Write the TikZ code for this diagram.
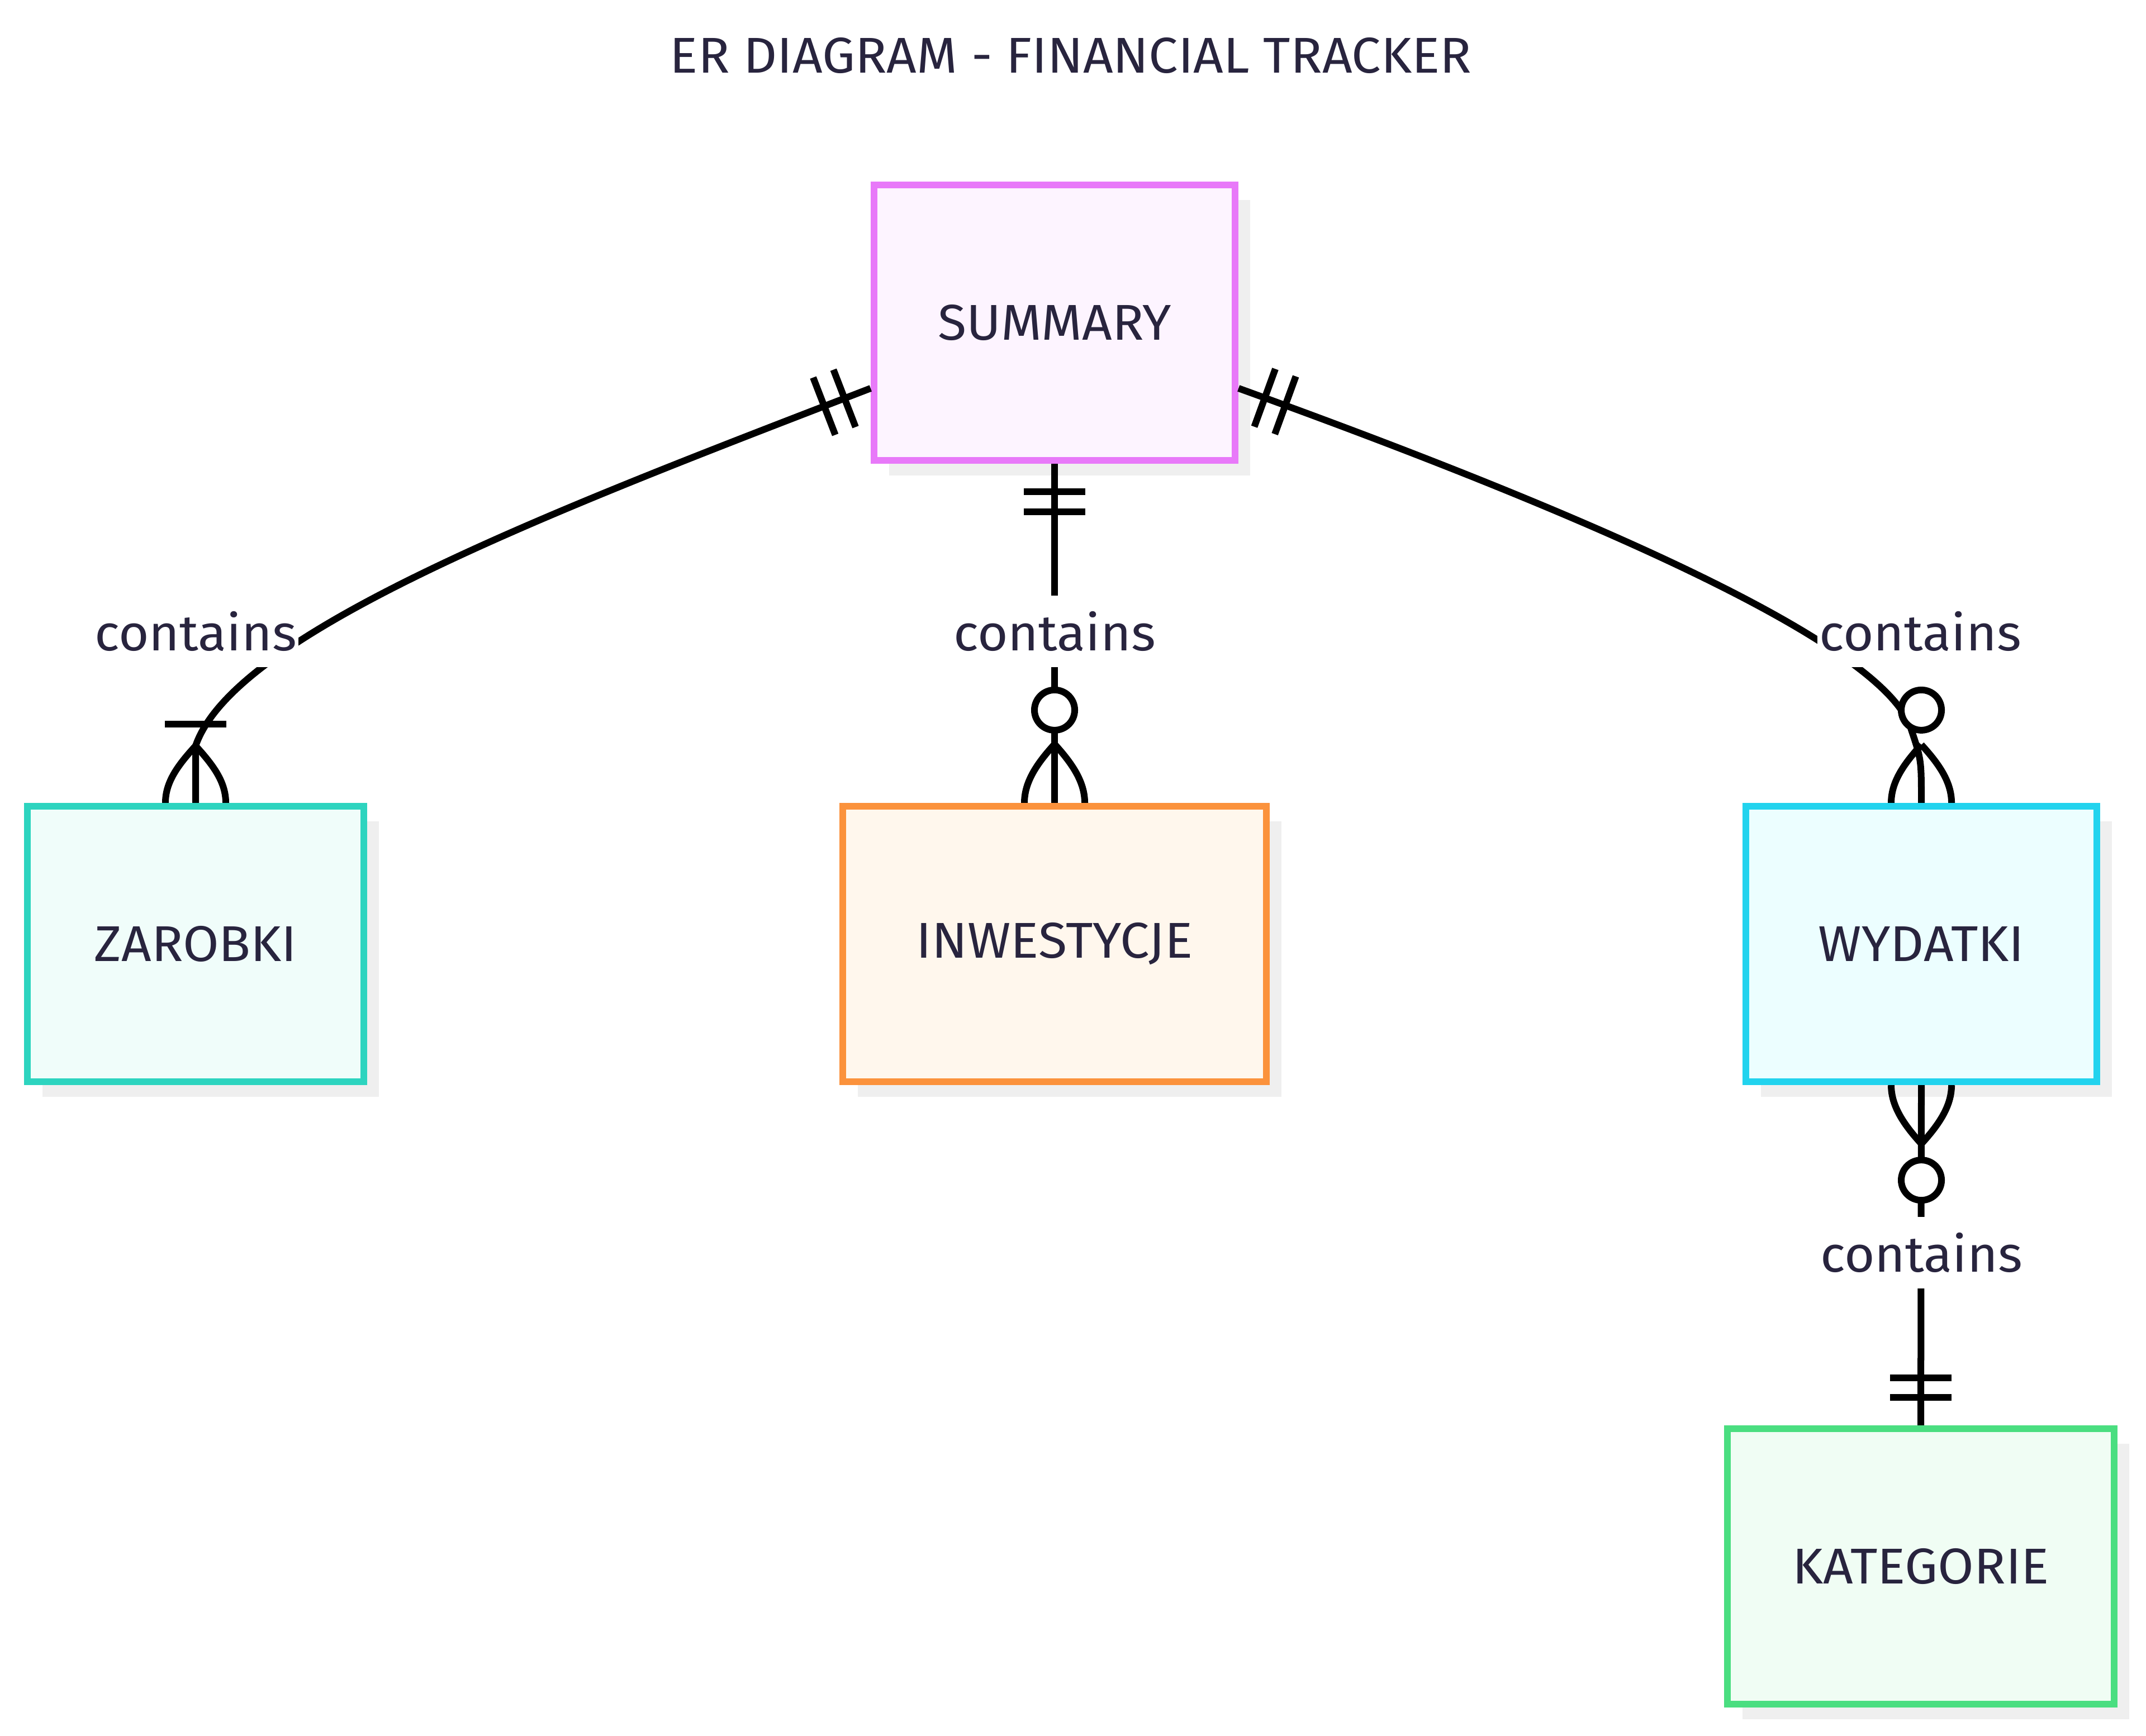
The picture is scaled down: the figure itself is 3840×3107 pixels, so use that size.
\documentclass[tikz,border=0pt]{standalone}
\usepackage{fontspec}
\newfontfamily\dfont[FakeStretch=1.04]{Fira Sans}
\usetikzlibrary{calc,shadows}
\definecolor{txt}{HTML}{28243E}
\definecolor{shade}{HTML}{EFEFEF}
\definecolor{sumD}{HTML}{E879F9}\definecolor{sumF}{HTML}{FDF4FF}
\definecolor{zarD}{HTML}{2DD4BF}\definecolor{zarF}{HTML}{F0FDFA}
\definecolor{inwD}{HTML}{FB923C}\definecolor{inwF}{HTML}{FFF7ED}
\definecolor{wydD}{HTML}{22D3EE}\definecolor{wydF}{HTML}{ECFEFF}
\definecolor{katD}{HTML}{4ADE80}\definecolor{katF}{HTML}{F0FDF4}
\begin{document}
\begin{tikzpicture}[x=0.01cm,y=-0.01cm,
  entity/.style={draw, line width=0.12cm, minimum height=4.93cm, text=txt,
    font=\dfont\fontsize{25.6}{30}\selectfont,
    drop shadow={shadow xshift=0.27cm, shadow yshift=-0.27cm, fill=shade, opacity=1}},
  conn/.style={line width=0.12cm, black},
  lab/.style={fill=white, inner xsep=0.03cm, inner ysep=0pt, minimum height=1.28cm, text=txt,
    font=\dfont\fontsize{25.6}{30}\selectfont},
  ttl/.style={text=txt, font=\dfont\fontsize{25.6}{30}\selectfont}]
\useasboundingbox[fill=white] (0,0) rectangle (3840,3107);

\node[ttl] (title) at (1916,99) {ER DIAGRAM - FINANCIAL TRACKER};

\node[entity, draw=sumD, fill=sumF, minimum width=6.46cm] (sum) at (1887,577.5) {SUMMARY};
\node[entity, draw=zarD, fill=zarF, minimum width=6.02cm] (zar) at (350,1689.5) {ZAROBKI};
\node[entity, draw=inwD, fill=inwF, minimum width=7.58cm] (inw) at (1887,1689.5) {INWESTYCJE};
\node[entity, draw=wydD, fill=wydF, minimum width=6.28cm] (wyd) at (3438,1689.5) {WYDATKI};
\node[entity, draw=katD, fill=katF, minimum width=6.92cm] (kat) at (3437,2803.5) {KATEGORIE};

\coordinate (sL) at ($(sum.west)+(0,117.5)$);
\coordinate (sR) at ($(sum.east)+(0,117.5)$);

% SUMMARY -> ZAROBKI
\draw[conn] (sL) .. controls (1000,910) and (420,1130) .. ($(zar.north)+(0,-102)$) -- (zar.north);
\draw[conn] ($(sL)+(-46.7,18)+(-19.8,-51.3)$) -- ($(sL)+(-46.7,18)+(19.8,51.3)$);
\draw[conn] ($(sL)+(-83,32)+(-19.8,-51.3)$) -- ($(sL)+(-83,32)+(19.8,51.3)$);
\draw[conn] ($(zar.north)+(-55,-141)$) -- ($(zar.north)+(55,-141)$);
\draw[conn] ($(zar.north)+(0,-102)$) .. controls +(-32,35) and +(0,-37) .. ($(zar.north)+(-54,0)$);
\draw[conn] ($(zar.north)+(0,-102)$) .. controls +(32,35) and +(0,-37) .. ($(zar.north)+(54,0)$);

% SUMMARY -> INWESTYCJE
\draw[conn] (sum.south) -- (inw.north);
\draw[conn] ($(sum.south)+(-55,50)$) -- ($(sum.south)+(55,50)$);
\draw[conn] ($(sum.south)+(-55,86)$) -- ($(sum.south)+(55,86)$);
\draw[conn, fill=white] ($(inw.north)+(0,-166)$) circle[radius=0.36cm];
\draw[conn] ($(inw.north)+(0,-105)$) .. controls +(-32,35) and +(0,-37) .. ($(inw.north)+(-54,0)$);
\draw[conn] ($(inw.north)+(0,-105)$) .. controls +(32,35) and +(0,-37) .. ($(inw.north)+(54,0)$);

% SUMMARY -> WYDATKI
\draw[conn] (sR) .. controls (2950,960) and (3380,1170) .. (3420,1306) .. controls (3438,1360) .. (wyd.north);
\draw[conn] ($(sR)+(47,17)+(18.8,-51.7)$) -- ($(sR)+(47,17)+(-18.8,51.7)$);
\draw[conn] ($(sR)+(83.7,30.3)+(18.8,-51.7)$) -- ($(sR)+(83.7,30.3)+(-18.8,51.7)$);
\draw[conn, fill=white] ($(wyd.north)+(0,-166)$) circle[radius=0.36cm];
\draw[conn] ($(wyd.north)+(0,-104)$) .. controls +(-32,35) and +(0,-37) .. ($(wyd.north)+(-54,0)$);
\draw[conn] ($(wyd.north)+(0,-104)$) .. controls +(32,35) and +(0,-37) .. ($(wyd.north)+(54,0)$);

% WYDATKI -> KATEGORIE
\draw[conn] (wyd.south) -- (kat.north);
\draw[conn] ($(wyd.south)+(0,105)$) .. controls +(-32,-35) and +(0,37) .. ($(wyd.south)+(-54,0)$);
\draw[conn] ($(wyd.south)+(0,105)$) .. controls +(32,-35) and +(0,37) .. ($(wyd.south)+(54,0)$);
\draw[conn, fill=white] ($(wyd.south)+(0,170)$) circle[radius=0.36cm];
\draw[conn] ($(kat.north)+(-55,-50)$) -- ($(kat.north)+(55,-50)$);
\draw[conn] ($(kat.north)+(-55,-85)$) -- ($(kat.north)+(55,-85)$);

% labels
\node[lab] (l1) at (350,1130) {contains};
\node[lab] (l2) at (1887,1130) {contains};
\node[lab] (l3) at (3436,1130) {contains};
\node[lab] (l4) at (3438,2242) {contains};
\end{tikzpicture}
\end{document}
